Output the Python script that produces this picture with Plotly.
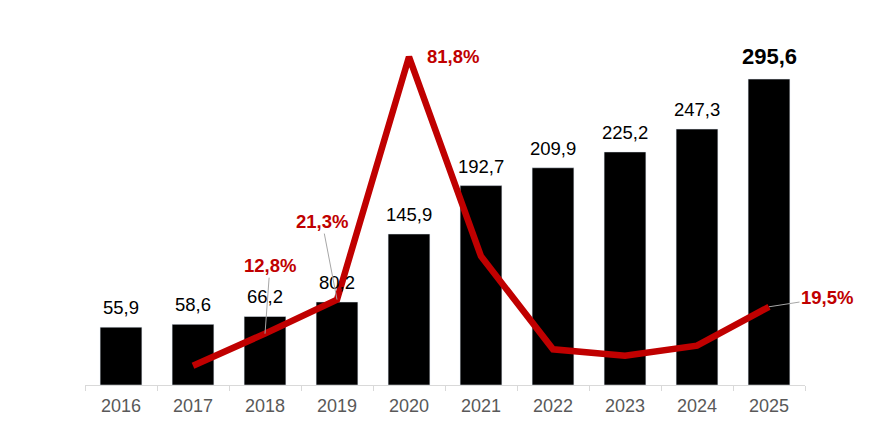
import plotly.graph_objects as go

years = ["2016", "2017", "2018", "2019", "2020", "2021", "2022", "2023", "2024", "2025"]
values = [55.9, 58.6, 66.2, 80.2, 145.9, 192.7, 209.9, 225.2, 247.3, 295.6]
growth_years = ["2017", "2018", "2019", "2020", "2021", "2022", "2023", "2024", "2025"]
growth = [4.8, 12.8, 21.3, 81.8, 32.1, 8.9, 7.3, 9.8, 19.5]

def fmt(v):
    return f"{v:.1f}".replace(".", ",")

FONT = "Liberation Sans, Arial"

fig = go.Figure()
fig.add_trace(go.Bar(
    x=years, y=values, marker_color="#000000", hoverinfo="skip",
))
fig.add_trace(go.Scatter(
    x=growth_years, y=growth, yaxis="y2", mode="lines",
    line=dict(color="#C00000", width=6.5), hoverinfo="skip",
))

annotations = []
# value labels above the bars
for i, (yr, v) in enumerate(zip(years, values)):
    last = i == len(values) - 1
    annotations.append(dict(
        x=i, y=v, xref="x", yref="y", yanchor="bottom",
        text=("<b>" + fmt(v) + "</b>") if last else fmt(v),
        showarrow=False, yshift=8 if last else 7,
        font=dict(family=FONT, size=22 if last else 18.5, color="#000000"),
    ))

red = "#C00000"
afont = dict(family=FONT, size=18.5, color=red)
labels = {"2018": (5, -68), "2019": (-15, -78), "2025": (58, -9)}
for yr, g in zip(growth_years, growth):
    xi = years.index(yr)
    if yr in labels:
        ax, ay = labels[yr]
        annotations.append(dict(
            x=xi, y=g, xref="x", yref="y2", text="<b>" + fmt(g) + "%</b>",
            showarrow=True, arrowhead=0, arrowwidth=1, arrowcolor="#a6a6a6",
            ax=ax, ay=ay, axref="pixel", ayref="pixel", font=afont,
        ))
    elif yr == "2020":
        annotations.append(dict(
            x=xi, y=g, xref="x", yref="y2", text="<b>" + fmt(g) + "%</b>",
            showarrow=False, xanchor="left", xshift=16, font=afont,
        ))

fig.update_layout(
    width=884, height=424,
    margin=dict(l=77, r=87, t=12, b=47),
    paper_bgcolor="white", plot_bgcolor="white",
    showlegend=False, bargap=0.42,
    annotations=annotations,
    xaxis=dict(
        type="category", categoryorder="array", categoryarray=years,
        range=[-0.5, len(years) - 0.5], autorange=False,
        showline=True, linecolor="#d9d9d9", linewidth=1,
        ticks="outside", tickson="boundaries", ticklen=5, tickcolor="#d9d9d9",
        tickfont=dict(family=FONT, size=18, color="#595959"),
        ticklabelstandoff=4,
        tickangle=0, showgrid=False,
    ),
    yaxis=dict(range=[0, 352.7], autorange=False, visible=False, showgrid=False),
    yaxis2=dict(range=[0, 91.0], autorange=False, overlaying="y", side="right",
                visible=False, showgrid=False),
)

fig.write_html("out.html")
